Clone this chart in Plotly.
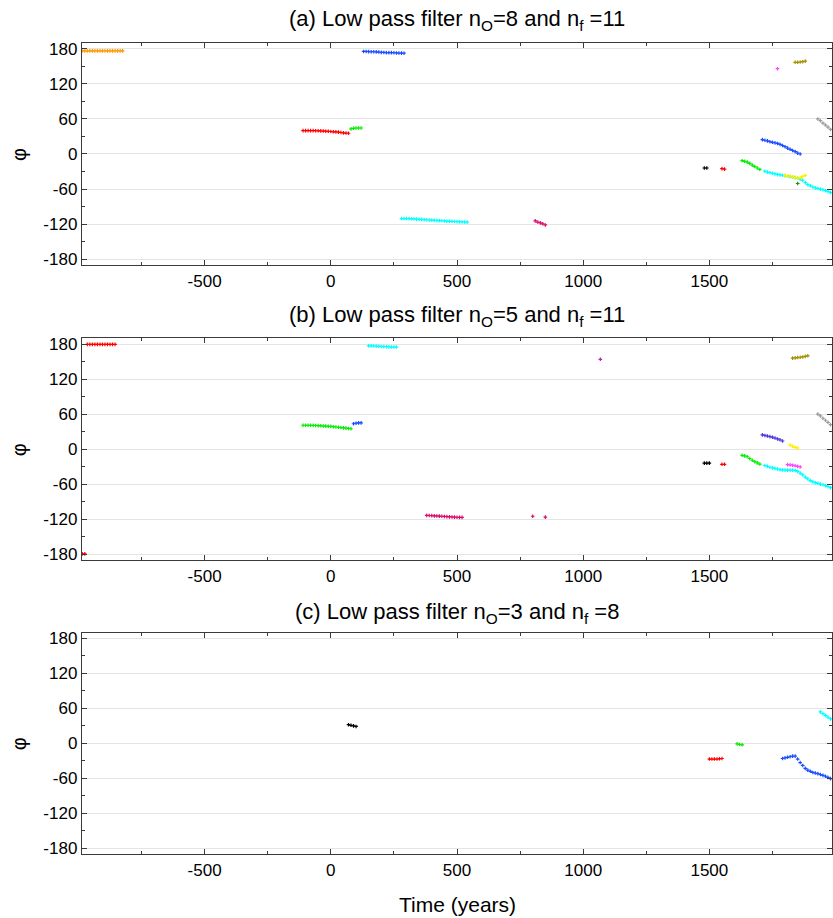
import plotly.graph_objects as go

# ---------------- axis ticks ----------------
X_TICKS = [-500, 0, 500, 1000, 1500]
X_TICK_TEXT = ["-500", "0", "500", "1000", "1500"]
X_MINOR = [-750, -250, 250, 750, 1250, 1750]
Y_TICKS = [-180, -120, -60, 0, 60, 120, 180]
Y_TICK_TEXT = ["-180", "-120", "-60", "0", "60", "120", "180"]
Y_MINOR = [-150, -90, -30, 30, 90, 150]
X_RANGE = [-986, 1986]
Y_RANGE = [-190, 190]

TITLES = [
    "(a) Low pass filter n<sub>O</sub>=8 and n<sub>f</sub> =11",
    "(b) Low pass filter n<sub>O</sub>=5 and n<sub>f</sub> =11",
    "(c) Low pass filter n<sub>O</sub>=3 and n<sub>f</sub> =8",
]

# ---------------- panel (a) ----------------
a_orange_x = [-985, -975, -965, -955, -945, -935, -925, -915, -905, -895, -885, -875, -865, -855, -845, -835, -825]
a_orange_y = [176.5, 176.5, 176.5, 176.5, 176.5, 176.5, 176.5, 176.5, 176.5, 176.5, 176.5, 176.5, 176.5, 176.5, 176.5, 176.5, 176.5]
a_red_x = [-110, -100, -90, -80, -70, -60, -50, -40, -30, -20, -10, 0, 10, 20, 30, 40, 50, 60, 70]
a_red_y = [40, 40, 40, 40, 40, 39.8, 39.7, 39.5, 39.3, 39, 38.8, 38.5, 38, 37.8, 37.5, 36.8, 36.2, 35.8, 35.5]
a_green_x = [80, 90, 100, 110, 120]
a_green_y = [43, 44, 44.5, 44.5, 44.5]
a_blue_x = [130, 140, 150, 160, 170, 180, 190, 200, 210, 220, 230, 240, 250, 260, 270, 280, 290]
a_blue_y = [175.5, 175.5, 175.2, 175, 175, 174.8, 174.5, 174, 173.8, 173.6, 173.5, 173.5, 173.3, 173, 172.8, 172.6, 172.5]
a_cyan_x = [280, 290, 300, 310, 320, 330, 340, 350, 360, 370, 380, 390, 400, 410, 420, 430, 440, 450, 460, 470, 480, 490, 500, 510, 520, 530, 540]
a_cyan_y = [-110.5, -110.5, -110.5, -110.7, -111, -111.2, -111.5, -111.8, -112, -112.3, -112.6, -113, -113.3, -113.6, -113.8, -114, -114.3, -114.6, -114.9, -115.2, -115.4, -115.6, -115.8, -116, -116.2, -116.4, -116.7]
a_crimson_x = [810, 820, 830, 840, 850]
a_crimson_y = [-114.5, -116.5, -118, -119.5, -121.5]
a_black_x = [1480, 1490]
a_black_y = [-24, -24]
a_red2_x = [1550, 1560]
a_red2_y = [-25, -26]
a_green2_x = [1630, 1640, 1650, 1660, 1670, 1680, 1690, 1700]
a_green2_y = [-11.5, -12.5, -14, -16, -19, -21.5, -24, -26.5]
a_cyan2_x = [1720, 1730, 1740, 1750, 1760, 1770, 1780, 1790, 1800, 1810, 1820, 1830, 1840, 1850, 1860, 1870, 1880, 1890, 1900, 1910, 1920, 1930, 1940, 1950, 1960, 1970, 1980]
a_cyan2_y = [-29.5, -31, -32, -33, -34, -35, -35.8, -36.4, -37, -38, -38.7, -39.5, -40.5, -41.5, -43, -45, -49, -52.5, -54.5, -56.5, -58, -59.2, -60.2, -61.2, -62.5, -64, -66]
a_blue2_x = [1710, 1720, 1730, 1740, 1750, 1760, 1770, 1780, 1790, 1800, 1810, 1820, 1830, 1840, 1850, 1860]
a_blue2_y = [24.5, 23.5, 22.5, 21, 20, 19, 18, 16.5, 14.5, 12.5, 10, 8, 6, 4, 1.5, 0]
a_gray_x = [1930, 1940, 1950, 1960, 1970, 1980]
a_gray_y = [60, 57, 53, 49.5, 46, 42]
a_olive_x = [1840, 1850, 1860, 1870, 1880]
a_olive_y = [157, 157, 157.5, 158, 159]
a_magenta_x = [1770]
a_magenta_y = [146]
a_yellow_x = [1800, 1810, 1820, 1830, 1840, 1850, 1860, 1870, 1880]
a_yellow_y = [-37, -37.5, -38, -39, -40, -41.5, -40.5, -38.5, -36.5]
a_dkgreen_x = [1850]
a_dkgreen_y = [-50.5]

# ---------------- panel (b) ----------------
b_red_x = [-985, -975, -965, -955, -945, -935, -925, -915, -905, -895, -885, -875, -865, -855]
b_red_y = [-179.5, -179.5, 179.5, 179.5, 179.5, 179.5, 179.5, 179.5, 179.5, 179.5, 179.5, 179.5, 179.5, 179.5]
b_green_x = [-110, -100, -90, -80, -70, -60, -50, -40, -30, -20, -10, 0, 10, 20, 30, 40, 50, 60, 70, 80]
b_green_y = [41, 41, 41, 41, 40.8, 40.5, 40.3, 40, 39.8, 39.5, 39.2, 39, 38.5, 38, 37.5, 37, 36.5, 36, 35.5, 35]
b_blue_x = [90, 100, 110, 120]
b_blue_y = [43.5, 44.5, 45, 45]
b_cyan_x = [150, 160, 170, 180, 190, 200, 210, 220, 230, 240, 250, 260]
b_cyan_y = [177, 177, 176.8, 176.5, 176.3, 176, 175.8, 175.5, 175.3, 175, 175, 175]
b_crimson_x = [380, 390, 400, 410, 420, 430, 440, 450, 460, 470, 480, 490, 500, 510, 520, 800, 850]
b_crimson_y = [-113.5, -113.7, -114, -114.3, -114.5, -114.8, -115, -115.3, -115.6, -116, -116.2, -116.5, -116.7, -116.9, -117, -115, -116.5]
b_purple_x = [1068]
b_purple_y = [154]
b_black_x = [1480, 1490, 1500]
b_black_y = [-24, -24, -24]
b_red2_x = [1550, 1560]
b_red2_y = [-26, -26]
b_green2_x = [1630, 1640, 1650, 1660, 1670, 1680, 1690, 1700]
b_green2_y = [-10.5, -11.5, -13, -16, -19, -21.5, -23.5, -25.5]
b_cyan2_x = [1720, 1730, 1740, 1750, 1760, 1770, 1780, 1790, 1800, 1810, 1820, 1830, 1840, 1850, 1860, 1870, 1880, 1890, 1900, 1910, 1920, 1930, 1940, 1950, 1960, 1970, 1980]
b_cyan2_y = [-28, -29.5, -31, -32, -33, -34, -35, -35.5, -36, -36, -36, -36, -36.5, -38, -41, -44, -48, -51, -54, -56, -57.5, -58.5, -60, -61, -62.5, -64, -66]
b_slate_x = [1710, 1720, 1730, 1740, 1750, 1760, 1770, 1780, 1790]
b_slate_y = [24.5, 23.5, 22.5, 21.5, 20.5, 19, 17.5, 16, 14]
b_yellow_x = [1820, 1830, 1840, 1850]
b_yellow_y = [7, 5, 3, 2]
b_magenta_x = [1810, 1820, 1830, 1840, 1850, 1860]
b_magenta_y = [-26.5, -27, -27.5, -28.5, -29.5, -30.5]
b_olive_x = [1830, 1840, 1850, 1860, 1870, 1880, 1890]
b_olive_y = [156, 156.5, 157, 157.5, 158, 159, 160]
b_gray_x = [1930, 1940, 1950, 1960, 1970, 1980]
b_gray_y = [60, 57, 53, 49.5, 46, 42]

# ---------------- panel (c) ----------------
c_black_x = [70, 80, 90, 100]
c_black_y = [32, 31, 30, 29]
c_red_x = [1500, 1510, 1520, 1530, 1540, 1550]
c_red_y = [-27, -27, -27, -27, -26.5, -26]
c_green_x = [1610, 1620, 1630]
c_green_y = [-1, -2, -2.5]
c_blue_x = [1790, 1800, 1810, 1820, 1830, 1840, 1850, 1860, 1870, 1880, 1890, 1900, 1910, 1920, 1930, 1940, 1950, 1960, 1970, 1980]
c_blue_y = [-26, -25, -24, -23, -22, -22, -27, -33, -38, -43, -46, -48, -50, -51, -52, -53.5, -55, -56.5, -58.5, -60.5]
c_cyan_x = [1940, 1950, 1960, 1970, 1980]
c_cyan_y = [54, 51, 48, 45, 42]

ORANGE = "#FF9900"
RED = "#FF0000"
GREEN = "#00EE00"
BLUE = "#1A4DFF"
CYAN = "#00FFFF"
CRIMSON = "#DD0A6E"
BLACK = "#000000"
OLIVE = "#A39200"
MAGENTA = "#FF44FF"
GRAY = "#9A9A9A"
YELLOW = "#FFEE00"
DKGREEN = "#1E8C1E"
PURPLE = "#B022B0"
SLATE = "#4B38E0"

panels = [
    [(a_orange_x, a_orange_y, ORANGE), (a_red_x, a_red_y, RED), (a_green_x, a_green_y, GREEN),
     (a_blue_x, a_blue_y, BLUE), (a_cyan_x, a_cyan_y, CYAN), (a_crimson_x, a_crimson_y, CRIMSON),
     (a_black_x, a_black_y, BLACK), (a_red2_x, a_red2_y, RED), (a_green2_x, a_green2_y, GREEN),
     (a_cyan2_x, a_cyan2_y, CYAN), (a_blue2_x, a_blue2_y, BLUE), (a_gray_x, a_gray_y, GRAY),
     (a_olive_x, a_olive_y, OLIVE), (a_magenta_x, a_magenta_y, MAGENTA),
     (a_yellow_x, a_yellow_y, YELLOW), (a_dkgreen_x, a_dkgreen_y, DKGREEN)],
    [(b_red_x, b_red_y, RED), (b_green_x, b_green_y, GREEN), (b_blue_x, b_blue_y, BLUE),
     (b_cyan_x, b_cyan_y, CYAN), (b_crimson_x, b_crimson_y, CRIMSON), (b_purple_x, b_purple_y, PURPLE),
     (b_black_x, b_black_y, BLACK), (b_red2_x, b_red2_y, RED), (b_green2_x, b_green2_y, GREEN),
     (b_cyan2_x, b_cyan2_y, CYAN), (b_slate_x, b_slate_y, SLATE), (b_yellow_x, b_yellow_y, YELLOW),
     (b_magenta_x, b_magenta_y, MAGENTA), (b_olive_x, b_olive_y, OLIVE), (b_gray_x, b_gray_y, GRAY)],
    [(c_black_x, c_black_y, BLACK), (c_red_x, c_red_y, RED), (c_green_x, c_green_y, GREEN),
     (c_blue_x, c_blue_y, BLUE), (c_cyan_x, c_cyan_y, CYAN)],
]

DOMAINS = [[0.7263, 1.0], [0.3625, 0.6359], [0.0, 0.2729]]
TITLE_SHIFT = [23, 22, 20]

FONT = "Liberation Sans, Arial, Helvetica, sans-serif"
fig = go.Figure()

for i, series in enumerate(panels):
    xa = "x" if i == 0 else f"x{i+1}"
    ya = "y" if i == 0 else f"y{i+1}"
    for xs, ys, col in series:
        fig.add_trace(go.Scatter(x=xs, y=ys, mode="markers", xaxis=xa, yaxis=ya,
                                 marker=dict(symbol="cross", size=3, color=col, line=dict(width=0)),
                                 showlegend=False, hoverinfo="x+y"))

axis_common = dict(showline=True, mirror="allticks", linecolor="#3a3a3a", linewidth=1.4,
                   ticks="inside", ticklen=5, tickwidth=1, tickcolor="#3a3a3a",
                   tickfont=dict(family=FONT, size=17, color="black"), zeroline=False)

layout = dict(width=833, height=918, margin=dict(l=82, r=1, t=43, b=64),
              paper_bgcolor="white", plot_bgcolor="white", showlegend=False)

annotations = []
for i in range(3):
    sfx = "" if i == 0 else str(i + 1)
    layout[f"xaxis{sfx}"] = dict(axis_common, range=X_RANGE, tickmode="array", tickvals=X_TICKS,
                                 ticktext=X_TICK_TEXT, showgrid=False, anchor=f"y{sfx}",
                                 minor=dict(tickvals=X_MINOR, ticks="inside", ticklen=3,
                                            tickcolor="#3a3a3a", showgrid=False))
    layout[f"yaxis{sfx}"] = dict(axis_common, range=Y_RANGE, tickmode="array", tickvals=Y_TICKS,
                                 ticktext=Y_TICK_TEXT, showgrid=True, gridcolor="#e4e4e4", gridwidth=1,
                                 domain=DOMAINS[i], anchor=f"x{sfx}",
                                 minor=dict(tickvals=Y_MINOR, ticks="inside", ticklen=3,
                                            tickcolor="#3a3a3a", showgrid=False))
    annotations.append(dict(text=TITLES[i], xref="paper", yref="paper", x=0.5, y=DOMAINS[i][1],
                            xanchor="center", yanchor="middle", yshift=TITLE_SHIFT[i], showarrow=False,
                            font=dict(family=FONT, size=22, color="black")))
    annotations.append(dict(text="φ", xref="paper", yref="paper", x=-0.084,
                            y=(DOMAINS[i][0] + DOMAINS[i][1]) / 2, xanchor="center", yanchor="middle",
                            textangle=-90, showarrow=False, font=dict(family=FONT, size=20, color="black")))

annotations.append(dict(text="Time (years)", xref="paper", yref="paper", x=0.5, y=0, xanchor="center",
                        yanchor="middle", yshift=-50, showarrow=False,
                        font=dict(family=FONT, size=21, color="black")))
layout["annotations"] = annotations
fig.update_layout(**layout)
fig.write_html("out.html")
